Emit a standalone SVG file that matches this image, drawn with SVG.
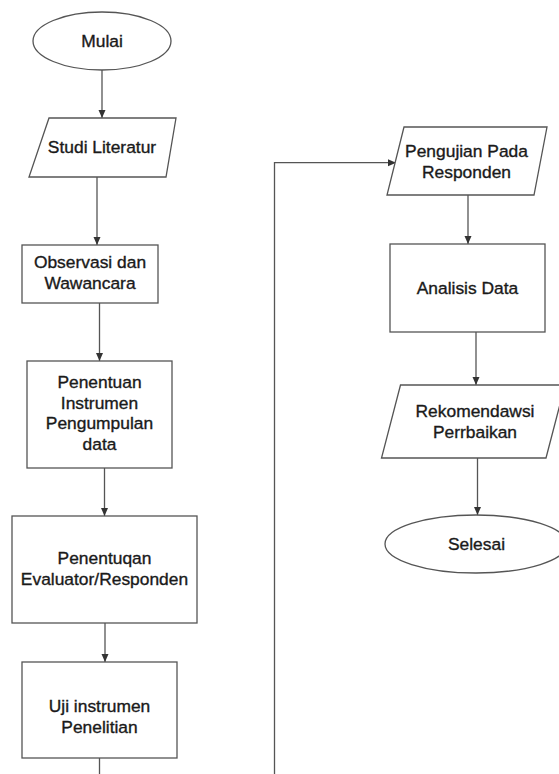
<svg xmlns="http://www.w3.org/2000/svg" width="559" height="774" viewBox="0 0 559 774">
<defs>
<marker id="ah" markerUnits="userSpaceOnUse" markerWidth="8" markerHeight="8" viewBox="0 0 8 8" refX="8" refY="4" orient="auto">
<path d="M0,0.5 L8,4 L0,7.5 Z" fill="#333"/>
</marker>
<style>
.s{fill:#fff;stroke:#555;stroke-width:1.3}
.c{fill:none;stroke:#555;stroke-width:1.3}
.t{font-family:"Liberation Sans",Arial,sans-serif;font-size:17.4px;fill:#1a1a1a;stroke:#1a1a1a;stroke-width:0.35;text-anchor:middle}
</style>
</defs>
<rect width="559" height="774" fill="#fff"/>
<g id="connectors">
<path class="c" d="M102,70 V118" marker-end="url(#ah)"/>
<path class="c" d="M97,177 V245" marker-end="url(#ah)"/>
<path class="c" d="M99.5,303 V361" marker-end="url(#ah)"/>
<path class="c" d="M104.5,468 V516" marker-end="url(#ah)"/>
<path class="c" d="M105,623 V662" marker-end="url(#ah)"/>
<path class="c" d="M99.5,758 V774"/>
<path class="c" d="M274.5,774 V162.7 H396" marker-end="url(#ah)"/>
<path class="c" d="M468,195 V244" marker-end="url(#ah)"/>
<path class="c" d="M476,332 V385" marker-end="url(#ah)"/>
<path class="c" d="M477.5,458 V515" marker-end="url(#ah)"/>
</g>
<g id="mulai">
<ellipse class="s" cx="102" cy="41" rx="69" ry="29"/>
<text class="t" x="102" y="47">Mulai</text>
</g>
<g id="studi">
<polygon class="s" points="49,118 176,118 166,177 29,177"/>
<text class="t" x="102" y="153">Studi Literatur</text>
</g>
<g id="observasi">
<rect class="s" x="22" y="245" width="136" height="58"/>
<text class="t" x="90" y="268">Observasi dan</text>
<text class="t" x="90" y="289">Wawancara</text>
</g>
<g id="instrumen">
<rect class="s" x="27" y="361" width="145" height="107"/>
<text class="t" x="99.5" y="388">Penentuan</text>
<text class="t" x="99.5" y="408.5">Instrumen</text>
<text class="t" x="99.5" y="429">Pengumpulan</text>
<text class="t" x="99.5" y="450">data</text>
</g>
<g id="evaluator">
<rect class="s" x="12" y="516" width="185" height="107"/>
<text class="t" x="104.5" y="564">Penentuqan</text>
<text class="t" x="104.5" y="585">Evaluator/Responden</text>
</g>
<g id="uji">
<rect class="s" x="22" y="662" width="155" height="96"/>
<text class="t" x="99.5" y="712">Uji instrumen</text>
<text class="t" x="99.5" y="733">Penelitian</text>
</g>
<g id="pengujian">
<polygon class="s" points="404,127 547,127 534,195 387,195"/>
<text class="t" x="466.5" y="157">Pengujian Pada</text>
<text class="t" x="466.5" y="177.5">Responden</text>
</g>
<g id="analisis">
<rect class="s" x="390" y="244" width="155" height="88"/>
<text class="t" x="467.5" y="294">Analisis Data</text>
</g>
<g id="rekomendasi">
<polygon class="s" points="400.5,385 565,385 546,458 381.5,458"/>
<text class="t" x="475" y="416.5">Rekomendawsi</text>
<text class="t" x="475" y="438">Perrbaikan</text>
</g>
<g id="selesai">
<ellipse class="s" cx="476" cy="544" rx="91" ry="29"/>
<text class="t" x="476.5" y="550">Selesai</text>
</g>
</svg>
